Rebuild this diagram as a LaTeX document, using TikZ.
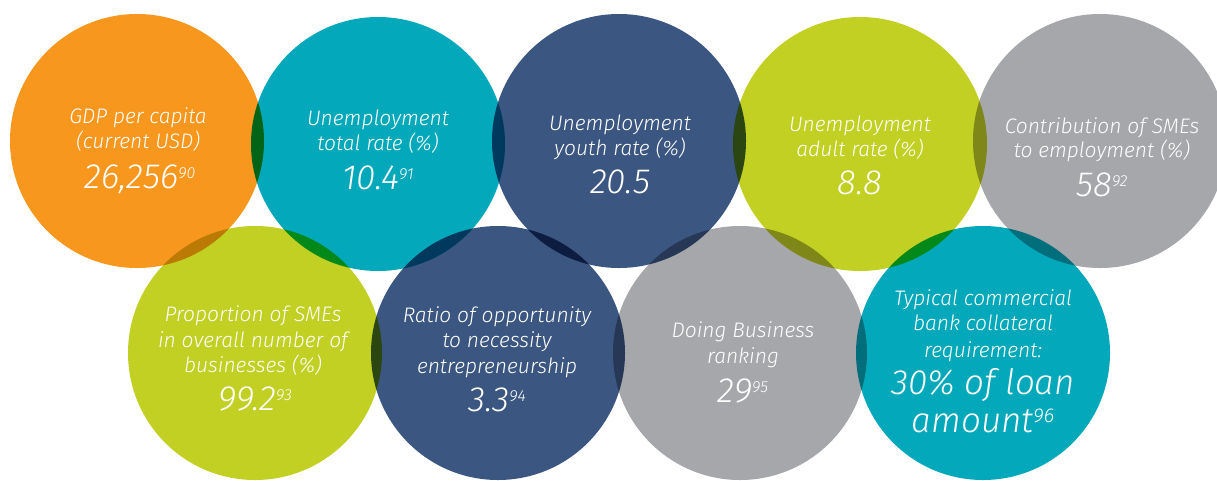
\documentclass[tikz,border=0pt]{standalone}
\usepackage{fontspec}
\setmainfont{Fira Sans}[ItalicFont={Fira Sans Light Italic}]
\definecolor{corange}{HTML}{F7971E}
\definecolor{cteal}{HTML}{03A9BB}
\definecolor{cnavy}{HTML}{3B5781}
\definecolor{clime}{HTML}{C2CF23}
\definecolor{cgray}{HTML}{A6A7AA}
\newcommand\lblfont{\fontsize{21pt}{24pt}\selectfont\itshape}
\newcommand\numfont{\fontsize{35pt}{38pt}\selectfont\itshape}
\newcommand\mysup[1]{\raisebox{10pt}{\fontsize{16pt}{16pt}\selectfont #1}}
\newcommand\mybigsup[1]{\raisebox{10pt}{\fontsize{20pt}{20pt}\selectfont #1}}
\tikzset{
  disc/.style={blend mode=multiply},
  lbl/.style={text=white, anchor=base, inner sep=0pt, font=\lblfont},
  num/.style={text=white, anchor=base, inner sep=0pt, font=\numfont},
}
\begin{document}
\begin{tikzpicture}[x=1pt,y=-1pt]
\useasboundingbox (0,0) rectangle (1217,480);
\fill[white] (0,0) rectangle (1217,480);
% top row
\fill[corange,disc] (137,141) circle (127);
\fill[cteal,disc]   (378,144) circle (127);
\fill[cnavy,disc]   (619,141) circle (127);
\fill[clime,disc]   (860,144) circle (127);
\fill[cgray,disc]   (1100,141) circle (127);
% bottom row
\fill[clime,disc]   (255,353) circle (127);
\fill[cnavy,disc]   (498,353) circle (127);
\fill[cgray,disc]   (740,353) circle (127);
\fill[cteal,disc]   (983,353) circle (127);
% texts circle 1
\node[lbl] (t1a) at (138,123) {GDP per capita};
\node[lbl] (t1b) at (138,148) {(current USD)};
\node[num] (t1c) at (140,188) {26,256\mysup{90}};
% circle 2
\node[lbl] (t2a) at (378,125) {Unemployment};
\node[lbl] (t2b) at (378,150) {total rate (\%)};
\node[num] (t2c) at (378,189) {10.4\mysup{91}};
% circle 3
\node[lbl] (t3a) at (620,130) {Unemployment};
\node[lbl] (t3b) at (620,155) {youth rate (\%)};
\node[num] (t3c) at (620,193) {20.5};
% circle 4
\node[lbl] (t4a) at (860,131) {Unemployment};
\node[lbl] (t4b) at (860,156) {adult rate (\%)};
\node[num] (t4c) at (860,194) {8.8};
% circle 5
\node[lbl] (t5a) at (1102,133) {Contribution of SMEs};
\node[lbl] (t5b) at (1102,157) {to employment (\%)};
\node[num] (t5c) at (1102,196) {58\mysup{92}};
% circle 6
\node[lbl] (t6a) at (253,321) {Proportion of SMEs};
\node[lbl] (t6b) at (253,347) {in overall number of};
\node[lbl] (t6c) at (253,372) {businesses (\%)};
\node[num] (t6d) at (255,410) {99.2\mysup{93}};
% circle 7
\node[lbl] (t7a) at (497,322) {Ratio of opportunity};
\node[lbl] (t7b) at (497,347) {to necessity};
\node[lbl] (t7c) at (497,373) {entrepreneurship};
\node[num] (t7d) at (497,411) {3.3\mysup{94}};
% circle 8
\node[lbl] (t8a) at (743,337) {Doing Business};
\node[lbl] (t8b) at (743,363) {ranking};
\node[num] (t8c) at (743,402) {29\mysup{95}};
% circle 9
\node[lbl] (t9a) at (983,305) {Typical commercial};
\node[lbl] (t9b) at (983,330) {bank collateral};
\node[lbl] (t9c) at (983,357) {requirement:};
\node[num] (t9d) at (983,394) {30\% of loan};
\node[num] (t9e) at (983,432) {amount\mybigsup{96}};
\end{tikzpicture}
\end{document}
